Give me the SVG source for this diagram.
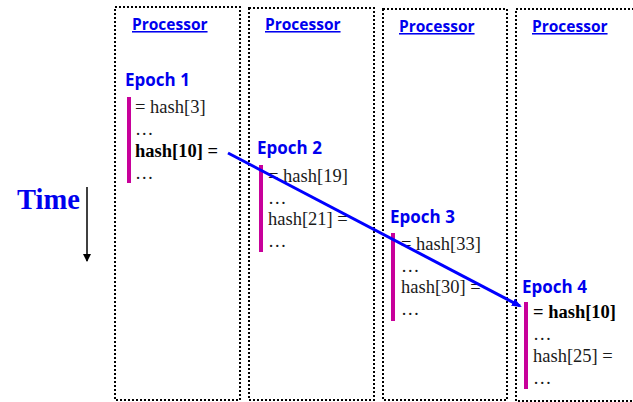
<svg xmlns="http://www.w3.org/2000/svg" width="633" height="402" viewBox="0 0 633 402">
<style>
.box{fill:none;stroke:#000;stroke-width:2;stroke-dasharray:2 2}
.proc{font-family:"Open Sans","Liberation Sans",sans-serif;font-weight:bold;font-size:15.5px;fill:#0000ee;text-decoration:underline}
.epoch{font-family:"Open Sans","Liberation Sans",sans-serif;font-weight:bold;font-size:17px;fill:#0000ee}
.bar{fill:#c8009a}
.t{font-family:"Liberation Serif","Times New Roman",serif;font-size:18.5px;fill:#1a1a1a}
.b{font-weight:bold;fill:#000}
</style>
<defs>
<marker id="ah" markerWidth="10" markerHeight="8" refX="8" refY="4" orient="auto" markerUnits="userSpaceOnUse">
<path d="M0,0 L10,4 L0,8 z" fill="#0000ff"/>
</marker>
<marker id="ak" markerWidth="8" markerHeight="8" refX="7" refY="4" orient="auto" markerUnits="userSpaceOnUse">
<path d="M0,0 L8,4 L0,8 z" fill="#000"/>
</marker>
</defs>
<g id="time">
<text x="17" y="209" font-family="Liberation Serif,serif" font-weight="bold" font-size="28.5px" fill="#0000ee">Time</text>
</g>
<g id="p1">
<rect class="box" x="115" y="7" width="125" height="393"/>
<text class="proc" x="132" y="30">Processor</text>
<text class="epoch" x="125" y="86">Epoch 1</text>
<rect class="bar" x="127" y="97" width="4" height="86"/>
<text class="t" x="135" y="113">= hash[3]</text>
<text class="t" x="135" y="135">…</text>
<text class="t b" x="135" y="157">hash[10] =</text>
<text class="t" x="135" y="179">…</text>
</g>
<g id="p2">
<rect class="box" x="249" y="8" width="125" height="392"/>
<text class="proc" x="265" y="30">Processor</text>
<text class="epoch" x="257" y="154">Epoch 2</text>
<rect class="bar" x="259" y="165" width="4" height="87"/>
<text class="t" x="268" y="182">= hash[19]</text>
<text class="t" x="268" y="204">…</text>
<text class="t" x="268" y="225">hash[21] =</text>
<text class="t" x="268" y="247">…</text>
</g>
<g id="p3">
<rect class="box" x="383" y="9" width="124" height="391"/>
<text class="proc" x="399" y="32">Processor</text>
<text class="epoch" x="390" y="223">Epoch 3</text>
<rect class="bar" x="391" y="233" width="4" height="88"/>
<text class="t" x="401" y="250">= hash[33]</text>
<text class="t" x="401" y="272">…</text>
<text class="t" x="401" y="293">hash[30] =</text>
<text class="t" x="401" y="315">…</text>
</g>
<g id="p4">
<rect class="box" x="516" y="9" width="130" height="392"/>
<text class="proc" x="532" y="32">Processor</text>
<text class="epoch" x="522" y="293">Epoch 4</text>
<rect class="bar" x="524" y="302" width="4" height="87"/>
<text class="t b" x="533" y="318">= hash[10]</text>
<text class="t" x="533" y="340">…</text>
<text class="t" x="533" y="362">hash[25] =</text>
<text class="t" x="533" y="384">…</text>
</g>
<g id="connectors">
<line x1="87" y1="187" x2="87" y2="261" stroke="#000" stroke-width="1.5" marker-end="url(#ak)"/>
<line x1="228" y1="153" x2="520" y2="306" stroke="#0000ff" stroke-width="3" marker-end="url(#ah)"/>
</g>
</svg>
